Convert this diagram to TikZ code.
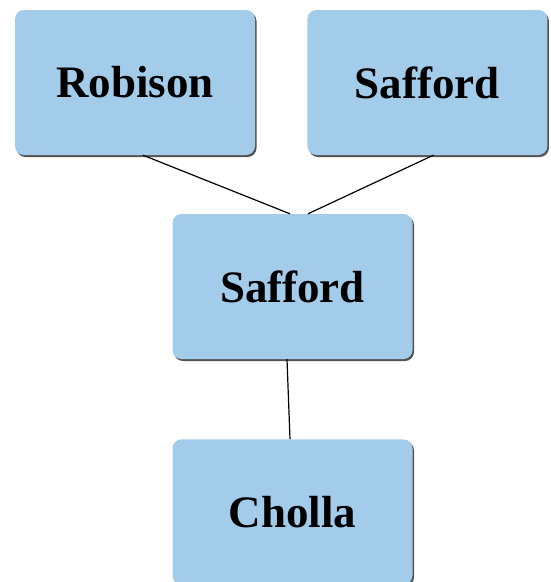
\documentclass[tikz,border=0pt]{standalone}
\usepackage{fontspec}
\setmainfont{Liberation Serif}
\usetikzlibrary{positioning, shadows}
\definecolor{boxblue}{RGB}{163, 204, 235}

\begin{document}
\begin{tikzpicture}[x=1pt, y=-1pt, node distance=52pt,
  box/.style={rounded corners=9pt, fill=boxblue, minimum width=240pt, minimum height=145pt,
    font=\fontsize{45}{50}\selectfont\bfseries,
    drop shadow={shadow xshift=1.5pt, shadow yshift=-2pt, opacity=0.9, fill=black!75}},
  link/.style={line width=1.2pt, black}]
\useasboundingbox (0,0) rectangle (551,582);
\node[box] (robison) at (135,82.5) {Robison};
\node[box, right=of robison] (saffordtop) {Safford};
\node[box] (safford) at (292.5,286.5) {Safford};
\node[box, below=80pt of safford] (cholla) {Cholla};
\draw[link] ([xshift=8pt]robison.south) -- ([xshift=-2.5pt]safford.north);
\draw[link] ([xshift=6pt]saffordtop.south) -- ([xshift=15.5pt]safford.north);
\draw[link] ([xshift=-5.5pt]safford.south) -- ([xshift=-2.5pt]cholla.north);
\end{tikzpicture}
\end{document}
